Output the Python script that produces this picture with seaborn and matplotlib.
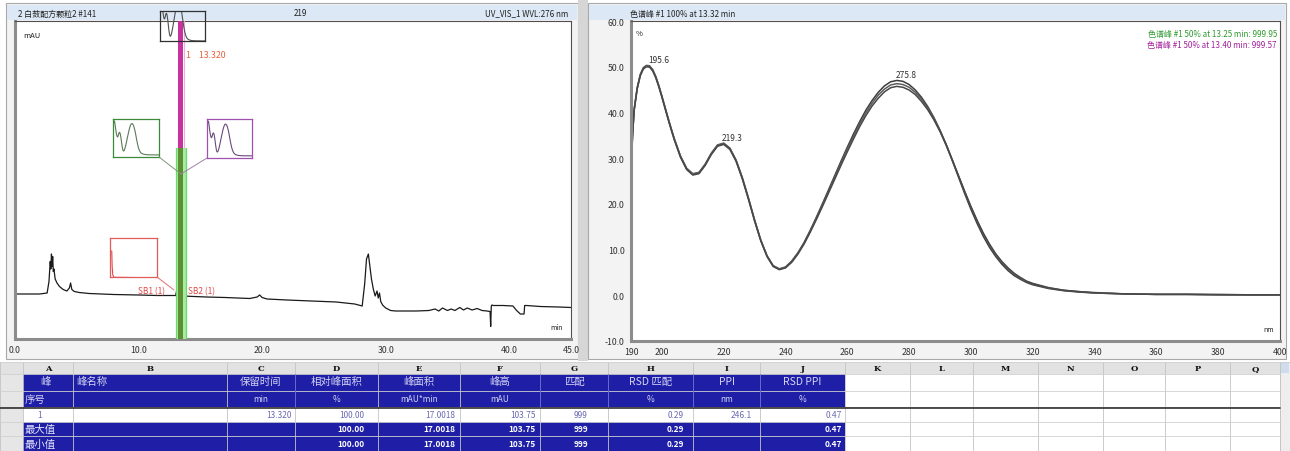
import matplotlib
matplotlib.use("Agg")
import matplotlib.pyplot as plt
from matplotlib.patches import Rectangle
from matplotlib.ticker import MultipleLocator, FormatStrFormatter
import pandas as pd
import seaborn as sns

# ---------------- data ----------------
chrom_time = [0.0, 1.0, 2.0, 2.6, 2.75, 2.85, 2.9, 2.95, 3.0, 3.05, 3.1, 3.15, 3.25, 3.4, 3.6,
              3.9, 4.2, 4.4, 4.5, 4.6, 4.8, 5.2, 6.0, 8.0, 10.0, 11.5, 12.5, 13.0, 13.2, 13.26,
              13.32, 13.38, 13.45, 13.6, 14.5, 15.5, 17.0, 19.0, 19.6, 19.8, 20.0, 20.4, 22.0,
              24.0, 26.0, 27.5, 28.1, 28.3, 28.45, 28.6, 28.7, 28.85, 29.0, 29.15, 29.3, 29.4,
              29.5, 29.6, 29.75, 30.0, 30.4, 30.8, 31.5, 32.5, 33.5, 34.0, 34.3, 34.6, 35.0,
              35.3, 35.6, 36.0, 36.3, 36.6, 37.0, 37.4, 37.8, 38.2, 38.45, 38.5, 38.55, 38.6,
              38.7, 39.5, 40.3, 40.6, 40.9, 41.2, 41.25, 41.4, 42.5, 44.0, 45.0]
chrom_mau = [0.0, 0.0, 0.0, 0.2, 2.5, 6.5, 5.0, 8.0, 5.5, 7.5, 4.5, 5.0, 3.0, 2.2, 1.5,
             0.9, 0.6, 1.2, 2.2, 0.9, 0.5, 0.3, 0.1, -0.1, -0.2, -0.3, -0.3, -0.3, 2.0, 45.0,
             103.75, 45.0, 3.0, -0.4, -0.5, -0.6, -0.7, -0.9, -0.6, -0.2, -0.7, -1.0, -1.2,
             -1.4, -1.6, -2.0, -2.4, 2.0, 7.0, 8.0, 6.0, 3.0, 1.0, -0.4, 0.6, -0.8,
             0.2, -1.5, -2.2, -2.8, -3.3, -3.4, -3.4, -3.4, -3.3, -3.0, -3.4, -2.8, -3.3,
             -3.0, -3.3, -2.7, -3.2, -2.8, -3.2, -2.9, -3.3, -3.4, -3.5, -6.5, -2.4, -2.2,
             -2.3, -2.3, -2.4, -3.3, -4.0, -4.0, -2.3, -2.3, -2.5, -2.6, -2.7]
chrom_xticks = [0, 10, 20, 30, 40, 45]

spec_wl = [190, 190.5, 191, 192, 193, 194, 195, 196, 197, 198, 199, 200, 201, 202, 203, 204,
           206, 208, 210, 212, 214, 216, 218, 220, 222, 224, 226, 228, 230, 232, 234, 236,
           238, 240, 242, 244, 246, 248, 250, 252, 254, 256, 258, 260, 262, 264, 266, 268,
           270, 272, 274, 276, 278, 280, 282, 284, 286, 288, 290, 292, 294, 296, 298, 300,
           302, 304, 306, 308, 310, 312, 314, 316, 318, 320, 325, 330, 335, 340, 350, 360,
           370, 380, 390, 400]
spec_apex = [27.0, 35.0, 40.5, 45.3, 48.2, 49.7, 50.2, 50.1, 49.3, 47.8, 45.8, 43.5, 41.1, 38.7, 36.4, 34.2,
             30.4, 27.7, 26.5, 26.8, 28.6, 31.0, 32.8, 33.2, 32.1, 29.5, 25.7, 21.2, 16.4, 12.0, 8.6, 6.4,
             5.7, 6.1, 7.4, 9.2, 11.5, 14.2, 17.1, 20.1, 23.2, 26.3, 29.4, 32.4, 35.3, 38.0, 40.5, 42.6,
             44.4, 45.8, 46.7, 47.0, 46.8, 46.1, 44.9, 43.3, 41.3, 38.9, 36.1, 32.9, 29.4, 25.8, 22.2, 18.8,
             15.7, 12.9, 10.5, 8.5, 6.8, 5.4, 4.3, 3.5, 2.8, 2.3, 1.5, 1.0, 0.7, 0.5, 0.3, 0.2,
             0.2, 0.1, 0.1, 0.1]
spec_up = [27.2, 35.2, 40.6, 45.4, 48.3, 49.8, 50.3, 50.2, 49.4, 47.9, 45.9, 43.6, 41.2, 38.8, 36.5, 34.3,
           30.5, 27.8, 26.6, 26.9, 28.7, 31.1, 32.9, 33.3, 32.2, 29.6, 25.8, 21.3, 16.5, 12.1, 8.7, 6.5,
           5.8, 6.2, 7.5, 9.3, 11.5, 14.1, 16.9, 19.9, 22.9, 26.0, 29.0, 32.0, 34.8, 37.5, 39.9, 42.0,
           43.8, 45.1, 46.0, 46.3, 46.1, 45.5, 44.4, 42.9, 41.0, 38.7, 36.0, 33.0, 29.6, 26.1, 22.6, 19.3,
           16.2, 13.4, 11.0, 8.9, 7.2, 5.8, 4.6, 3.7, 3.0, 2.5, 1.6, 1.1, 0.8, 0.5, 0.3, 0.2,
           0.2, 0.1, 0.1, 0.1]
spec_down = [27.0, 34.8, 40.3, 45.1, 48.0, 49.5, 50.0, 49.9, 49.1, 47.6, 45.6, 43.3, 40.9, 38.5, 36.2, 34.0,
             30.2, 27.5, 26.3, 26.6, 28.4, 30.8, 32.6, 33.0, 31.9, 29.3, 25.5, 21.0, 16.2, 11.9, 8.5, 6.3,
             5.6, 6.0, 7.2, 9.0, 11.2, 13.8, 16.6, 19.5, 22.5, 25.5, 28.5, 31.4, 34.2, 36.9, 39.3, 41.4,
             43.1, 44.5, 45.4, 45.7, 45.5, 44.9, 43.9, 42.4, 40.6, 38.4, 35.8, 32.8, 29.5, 26.1, 22.7, 19.4,
             16.4, 13.6, 11.2, 9.1, 7.4, 6.0, 4.8, 3.9, 3.1, 2.6, 1.7, 1.1, 0.8, 0.6, 0.3, 0.2,
             0.2, 0.2, 0.1, 0.1]
spec_peak_nm = [195.6, 219.3, 275.8]
spec_peak_val = [50.2, 33.2, 47.0]
spec_xticks = [190, 200, 220, 240, 260, 280, 300, 320, 340, 360, 380, 400]
spec_yticks = [-10, 0, 10, 20, 30, 40, 50, 60]

sb_wl = [190, 191, 192, 195, 200, 400]
sb_val = [95, 70, 40, 10, 2, 0]

table_letters = list("ABCDEFGHIJKLMNOPQ")
hdr1 = ["峰", "峰名称", "保留时间", "相对峰面积", "峰面积", "峰高", "匹配", "RSD 匹配", "PPI", "RSD PPI"]
hdr2 = ["序号", "", "min", "%", "mAU*min", "mAU", "", "%", "nm", "%"]
row_peak = ["1", "", "13.320", "100.00", "17.0018", "103.75", "999", "0.29", "246.1", "0.47"]
row_max = ["最大值", "", "", "100.00", "17.0018", "103.75", "999", "0.29", "", "0.47"]
row_min = ["最小值", "", "", "100.00", "17.0018", "103.75", "999", "0.29", "", "0.47"]

# ---------------- layout ----------------
sns.set_theme(style="white")
plt.rcParams['font.family'] = ['Noto Sans CJK SC', 'DejaVu Sans']
W, H = 1290, 452
fig = plt.figure(figsize=(W / 100, H / 100), dpi=100)
fig.patch.set_facecolor("white")


def fax(x0, y0, x1, y1):
    return fig.add_axes([x0 / W, 1 - y1 / H, (x1 - x0) / W, (y1 - y0) / H])


def pix_axes(a):
    a.set_xlim(0, W)
    a.set_ylim(H, 0)
    a.axis("off")


bg = fax(0, 0, W, H)
pix_axes(bg)
# panels
bg.add_patch(Rectangle((6, 4), 572, 356, fc="#f3f3f3", ec="#a8a8a8", lw=0.8))
bg.add_patch(Rectangle((7, 6), 570, 15, fc="#dce8f5", ec="none"))
bg.add_patch(Rectangle((578, 0), 10, 362, fc="#d6d6d6", ec="none"))
bg.add_patch(Rectangle((588, 4), 698, 356, fc="#f3f3f3", ec="#a8a8a8", lw=0.8))
bg.add_patch(Rectangle((589, 6), 696, 15, fc="#dce8f5", ec="none"))

tfs = 5.8
bg.text(18, 14, "2 白蔹配方颗粒2 #141", fontsize=tfs, va="center", color="#222")
bg.text(300, 14, "219", fontsize=tfs, va="center", ha="center", color="#222")
bg.text(568, 14, "UV_VIS_1 WVL:276 nm", fontsize=tfs, va="center", ha="right", color="#222")
bg.text(630, 14, "色谱峰 #1 100% at 13.32 min", fontsize=tfs, va="center", color="#222")

# ---------------- table ----------------
col_edges = [0, 23, 73, 227, 295, 378, 460, 540, 608, 693, 760, 845, 910, 973, 1038, 1103, 1165, 1230, 1280]
row_edges = [363, 375, 392, 408, 423, 437, 452]
blue = "#1e1ea6"
bg.add_patch(Rectangle((0, 363), 1280, 89, fc="white", ec="none"))
bg.add_patch(Rectangle((0, 363), 1280, 12, fc="#e2e2e2", ec="none"))
bg.add_patch(Rectangle((0, 375), 23, 77, fc="#e6e6e6", ec="none"))
bg.add_patch(Rectangle((1280, 363), 10, 89, fc="#eeeeee", ec="#c8c8c8", lw=0.6))
bg.add_patch(Rectangle((1281, 364), 8, 10, fc="#cfdcec", ec="none"))
for xe in col_edges:
    bg.plot([xe, xe], [363, 452], color="#c4c4c4", lw=0.6)
for ye in row_edges:
    bg.plot([0, 1280], [ye, ye], color="#d0d0d0", lw=0.6)
bg.plot([0, 1280], [408.5, 408.5], color="#303030", lw=1.2)
bg.add_patch(Rectangle((23, 375), 822, 33, fc=blue, ec="none"))
bg.add_patch(Rectangle((23, 423), 822, 29, fc=blue, ec="none"))
for xe in [295, 540, 608, 693, 760]:
    bg.plot([xe, xe], [375, 408], color="#5a5ad0", lw=0.6)
for i, L in enumerate(table_letters):
    cx = (col_edges[i + 1] + col_edges[i + 2]) / 2
    bg.text(cx, 369, L, fontsize=6, ha="center", va="center", family="DejaVu Serif",
            fontweight="bold", color="#111")
hcol = "#d4d4f4"
bg.text(45, 382, hdr1[0], fontsize=7.5, ha="center", va="center", color=hcol)
bg.text(92, 382, hdr1[1], fontsize=7.5, ha="center", va="center", color=hcol)
bg.text(35, 400, hdr2[0], fontsize=7.5, ha="center", va="center", color=hcol)
for j in range(2, 10):
    cx = (col_edges[j + 1] + col_edges[j + 2]) / 2
    bg.text(cx, 382, hdr1[j], fontsize=7.5, ha="center", va="center", color=hcol)
    bg.text(cx, 400, hdr2[j], fontsize=6, ha="center", va="center", color=hcol)
right_x = [None, None, 292, 364, 455, 536, 588, 684, 752, 842]
bg.text(40, 416, row_peak[0], fontsize=6, ha="center", va="center", color="#6a6ab0")
for j in range(2, 10):
    if row_peak[j]:
        bg.text(right_x[j], 416, row_peak[j], fontsize=6, ha="right", va="center", color="#6a6ab0")
for y, row in [(430, row_max), (444.5, row_min)]:
    bg.text(25, y, row[0], fontsize=7.5, ha="left", va="center", color="#e8e8ff")
    for j in range(2, 10):
        if row[j]:
            bg.text(right_x[j], y, row[j], fontsize=6, ha="right", va="center",
                    color="white", fontweight="bold")

tick_kw = dict(labelsize=6.3, labelcolor="#333", colors="#555")

# ---------------- chromatogram ----------------
ax1 = fax(15, 22, 571, 340)
ax1.set_facecolor("white")
sns.lineplot(x=chrom_time, y=chrom_mau, ax=ax1, color="#1a1a1a", lw=0.9, estimator=None)
ax1.set_xlim(0, 45)
ax1.set_ylim(-9, 54.6)
# peak purity marker bands (green = upslope, magenta = downslope)
ax1.axvspan(13.05, 13.80, ymin=0, ymax=0.6, color="#a6eca2", lw=0, zorder=3)
ax1.axvspan(13.22, 13.58, ymin=0, ymax=0.6, color="#5f8f32", lw=0, zorder=3)
ax1.axvline(13.05, ymin=0, ymax=0.6, color="#6ed86e", lw=0.9, zorder=3)
ax1.axvline(13.80, ymin=0, ymax=0.6, color="#6ed86e", lw=0.9, zorder=3)
ax1.axvspan(13.18, 13.62, ymin=0.6, ymax=1.0, color="#c8329e", lw=0, zorder=3)
ax1.axvline(13.70, ymin=0.6, ymax=1.0, color="#eab0dc", lw=0.8, zorder=3)
ax1.text(13.85, 48, "1    13.320", fontsize=6.3, color="#e8603c", va="center")
ax1.set_xticks(chrom_xticks)
ax1.set_xticklabels([f"{v:.1f}" for v in chrom_xticks])
ax1.xaxis.set_minor_locator(MultipleLocator(2.5))
ax1.set_yticks(range(-5, 55, 10))
ax1.set_yticklabels([])
ax1.yaxis.set_minor_locator(MultipleLocator(2))
ax1.tick_params(axis="both", which="major", direction="inout", length=5, width=0.7, pad=2, **tick_kw)
ax1.tick_params(axis="both", which="minor", direction="inout", length=3, width=0.5, colors="#666")
ax1.set_xlabel("")
ax1.set_ylabel("")
for s in ax1.spines.values():
    s.set_color("#505050")
    s.set_linewidth(0.8)
ax1.spines["left"].set_color("#8c8c8c")
ax1.spines["left"].set_linewidth(2.2)
ax1.spines["bottom"].set_color("#8c8c8c")
ax1.spines["bottom"].set_linewidth(2.2)
ax1.text(0.015, 0.97, "mAU", transform=ax1.transAxes, fontsize=5.5, va="top", color="#222")
ax1.text(0.985, 0.025, "min", transform=ax1.transAxes, fontsize=5, ha="right", va="bottom", color="#222")

# ---------------- spectrum ----------------
ax2 = fax(631, 22, 1280, 342)
ax2.set_facecolor("white")
spec_df = pd.DataFrame({
    "nm": spec_wl * 3,
    "pct": spec_apex + spec_up + spec_down,
    "series": ["apex"] * len(spec_wl) + ["up"] * len(spec_wl) + ["down"] * len(spec_wl),
})
sns.lineplot(data=spec_df, x="nm", y="pct", hue="series", ax=ax2,
             palette={"apex": "#3c3c3c", "up": "#5c5c5c", "down": "#484848"},
             lw=1.1, estimator=None, legend=False)
ax2.set_xlim(190, 400)
ax2.set_ylim(-10, 60)
for nm, v in zip(spec_peak_nm, spec_peak_val):
    ax2.text(nm, v + 0.4, f"{nm:.1f}", fontsize=6, color="#333", ha="left", va="bottom")
ax2.set_xticks(spec_xticks)
ax2.set_xticklabels([str(v) for v in spec_xticks])
ax2.xaxis.set_minor_locator(MultipleLocator(5))
ax2.set_yticks(spec_yticks)
ax2.yaxis.set_major_formatter(FormatStrFormatter("%.1f"))
ax2.yaxis.set_minor_locator(MultipleLocator(2))
ax2.tick_params(axis="both", which="major", direction="inout", length=5, width=0.7, pad=2, **tick_kw)
ax2.tick_params(axis="both", which="minor", direction="inout", length=3, width=0.5, colors="#666")
ax2.set_xlabel("")
ax2.set_ylabel("")
for s in ax2.spines.values():
    s.set_color("#505050")
    s.set_linewidth(0.8)
ax2.spines["left"].set_color("#8c8c8c")
ax2.spines["left"].set_linewidth(2.2)
ax2.spines["bottom"].set_color("#8c8c8c")
ax2.spines["bottom"].set_linewidth(2.2)
ax2.text(0.008, 0.975, "%", transform=ax2.transAxes, fontsize=5.5, va="top", color="#222")
ax2.text(0.99, 0.025, "nm", transform=ax2.transAxes, fontsize=5, ha="right", va="bottom", color="#222")
ax2.text(0.995, 0.975, "色谱峰 #1 50% at 13.25 min: 999.95", transform=ax2.transAxes,
         fontsize=5.8, ha="right", va="top", color="#2f9a2f")
ax2.text(0.995, 0.94, "色谱峰 #1 50% at 13.40 min: 999.57", transform=ax2.transAxes,
         fontsize=5.8, ha="right", va="top", color="#a0209a")


# ---------------- spectrum insets on chromatogram ----------------
def inset(x0, y0, x1, y1, edge, line, xs, ys, xlim, ylim, face="white"):
    a = fax(x0, y0, x1, y1)
    a.set_facecolor(face)
    sns.lineplot(x=xs, y=ys, ax=a, color=line, lw=0.8, estimator=None)
    a.set_xlim(*xlim)
    a.set_ylim(*ylim)
    a.set_xticks([])
    a.set_yticks([])
    a.set_xlabel("")
    a.set_ylabel("")
    for s in a.spines.values():
        s.set_color(edge)
        s.set_linewidth(0.9)
    return a


inset(160, 12, 205, 42, "#303030", "#505050", spec_wl, spec_apex, (190, 400), (0, 36), face="none")
inset(113, 120, 159, 158, "#3a8a3a", "#5a7a5a", spec_wl, spec_up, (190, 400), (-3, 53))
inset(207, 120, 252, 159, "#a050b0", "#6a4a7a", spec_wl, spec_down, (190, 400), (-3, 53))
inset(110, 239, 157, 278, "#e05a5a", "#e04848", sb_wl, sb_val, (182, 400), (3, 140))

ov = fax(0, 0, W, H)
pix_axes(ov)
ov.patch.set_alpha(0)
ov.plot([159, 181], [158, 175], color="#7a9a7a", lw=0.7)
ov.plot([207, 181], [159, 175], color="#a080a8", lw=0.7)
ov.plot([157, 174], [278, 291], color="#e07070", lw=0.7)
ov.text(138, 292, "SB1 (1)", fontsize=6, color="#e04848", va="center")
ov.text(188, 292, "SB2 (1)", fontsize=6, color="#e04848", va="center")

fig.savefig("out.png", dpi=100)
